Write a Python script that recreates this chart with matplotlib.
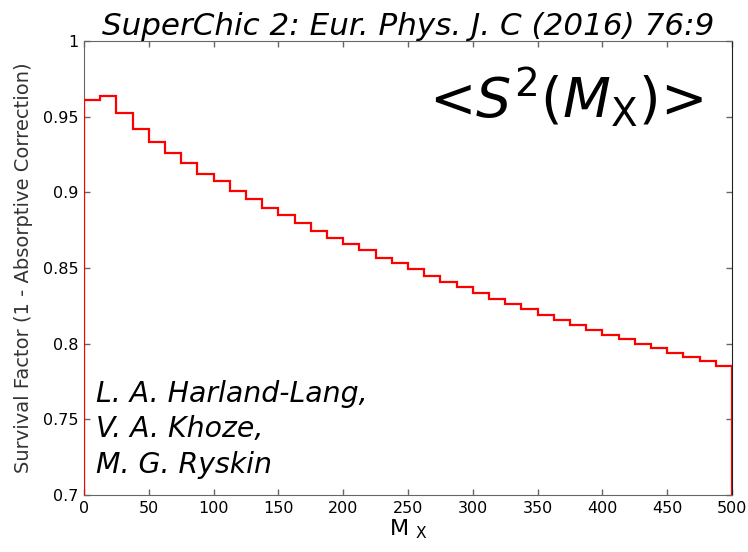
import numpy as np
import matplotlib
matplotlib.use('Agg')
import matplotlib.pyplot as plt

# bin edges in M_X (12.5 wide, 0 - 500)
mx_edges = np.linspace(0, 500, 41)

# average survival factor in each bin
survival = [
    0.9608, 0.9636, 0.9522, 0.9418, 0.9335, 0.9262, 0.9196, 0.9123,
    0.9073, 0.9009, 0.8956, 0.8896, 0.8848, 0.8795, 0.8744, 0.8700,
    0.8660, 0.8616, 0.8568, 0.8531, 0.8491, 0.8447, 0.8407, 0.8374,
    0.8335, 0.8297, 0.8262, 0.8231, 0.8191, 0.8158, 0.8125, 0.8092,
    0.8059, 0.8029, 0.8000, 0.7969, 0.7938, 0.7910, 0.7883, 0.7852,
]

x_ticks = np.arange(0, 501, 50)
y_ticks = [0.7, 0.75, 0.8, 0.85, 0.9, 0.95, 1.0]
y_ticklabels = ['0.7', '0.75', '0.8', '0.85', '0.9', '0.95', '1']

plt.rcParams['font.family'] = 'DejaVu Sans'
plt.rcParams['mathtext.fontset'] = 'dejavusans'

fig = plt.figure(figsize=(7.48, 5.52), dpi=100)
ax = fig.add_axes([0.1123, 0.1033, 0.8663, 0.8224])

# histogram outline, drawn above the spines so the edges at 0 and 500 show
ax.stairs(survival, mx_edges, baseline=0.0, color='red', linewidth=1.6,
          zorder=3)

ax.set_xlim(0, 500)
ax.set_ylim(0.7, 1.0)
ax.set_xticks(x_ticks)
ax.set_yticks(y_ticks)
ax.set_yticklabels(y_ticklabels)
ax.tick_params(direction='in', length=4, width=1, color='#666666',
               top=True, right=True, labelsize=11.5, pad=4)

for pos in ['left', 'top', 'bottom']:
    ax.spines[pos].set_color('#666666')
ax.spines['right'].set_color('#222222')

ax.set_xlabel(r'M $_{\mathrm{X}}$', fontsize=16, labelpad=1)
ax.set_ylabel('Survival Factor (1 - Absorptive Correction)', fontsize=14,
              color='#333333', labelpad=7)

ax.set_title('SuperChic 2: Eur. Phys. J. C (2016) 76:9', fontsize=22.3,
             style='italic', pad=4)

# angle brackets as plain text so mathtext adds no relation spacing
ax.text(0.955, 0.875, r'<$S^{2}(M_{\mathrm{X}})$>', transform=ax.transAxes,
        fontsize=40, ha='right', va='center')

ax.text(0.018, 0.253, 'L. A. Harland-Lang,\nV. A. Khoze,\nM. G. Ryskin',
        transform=ax.transAxes, fontsize=20.4, style='italic',
        ha='left', va='top', linespacing=1.33)

fig.savefig('out.png', dpi=100)
